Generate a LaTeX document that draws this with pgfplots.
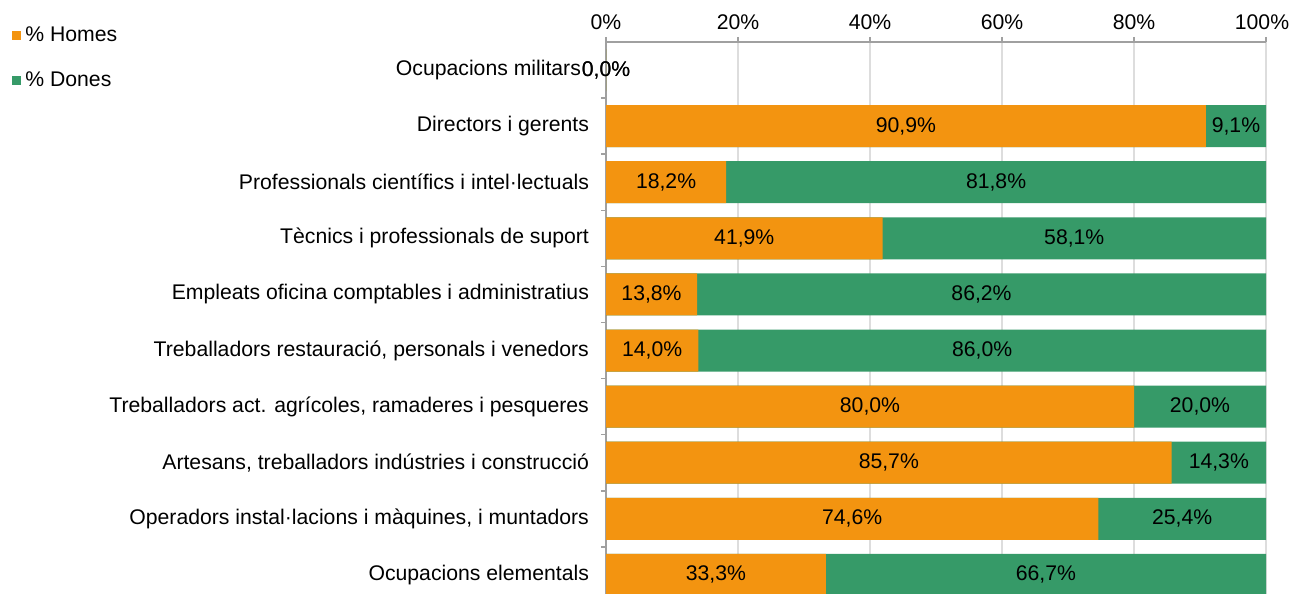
\documentclass[border=0pt]{standalone}
\usepackage{fontspec}
\setmainfont{Liberation Sans}
\usepackage{pgfplots}
\usepackage{pgfplotstable}
\pgfplotsset{compat=1.18}
\definecolor{hom}{HTML}{F39410}
\definecolor{don}{HTML}{369A68}
\definecolor{axisgray}{HTML}{A0A0A0}
\definecolor{gridgray}{HTML}{DDDDDD}
\pgfplotstableread{
y h d
9 0.0 0.0
8 90.9 9.1
7 18.2 81.8
6 41.9 58.1
5 13.8 86.2
4 14.0 86.0
3 80.0 20.0
2 85.7 14.3
1 74.6 25.4
0 33.3 66.7
}\data
\begin{document}
\begin{tikzpicture}
\path[use as bounding box] (0pt,0pt) rectangle (645pt,297pt);
\begin{axis}[
  at={(303pt,0pt)}, anchor=south west,
  scale only axis, width=330pt, height=276pt,
  xmin=0, xmax=100, ymin=-0.34, ymax=9.5,
  axis x line=top, axis y line=left,
  axis line style={draw=axisgray, line width=0.75pt, -},
  tick align=outside,
  major tick length=2.5pt, minor tick length=2.5pt,
  tick style={draw=axisgray, line width=0.75pt},
  /pgf/number format/assume math mode=true,
  xtick={0,20,...,100},
  xticklabels={0\%,20\%,40\%,60\%,80\%,{100\%\kern4pt}},
  xmajorgrids, major x grid style={draw=gridgray, line width=0.6pt},
  ytick={0,...,9},
  yticklabels={Ocupacions elementals,
    {Operadors instal·lacions i màquines, i muntadors},
    {Artesans, treballadors indústries i construcció},
    {Treballadors act. agrícoles, ramaderes i pesqueres},
    {Treballadors restauració, personals i venedors},
    Empleats oficina comptables i administratius,
    Tècnics i professionals de suport,
    Professionals científics i intel·lectuals,
    Directors i gerents,
    {Ocupacions militars\kern4pt}},
  minor ytick={0.5,1.5,...,8.5},
  every major y tick/.append style={draw=none},
  tick label style={font=\fontsize{10.6}{12}\selectfont, text=black},
  yticklabel style={xshift=-2.5pt},
  legend style={at={(axis description cs:-0.9,1.035)}, anchor=north west,
    draw=none, fill=none, inner sep=0pt, row sep=9.5pt,
    font=\fontsize{10.6}{12}\selectfont},
  legend cell align=left,
  legend image code/.code={\fill[#1] (0pt,-2.25pt) rectangle (4.5pt,2.25pt);},
  every node near coord/.append style={font=\fontsize{10.6}{12}\selectfont, text=black},
]
\addlegendimage{fill=hom, draw=none}
\addlegendentry{\% Homes}
\addlegendimage{fill=don, draw=none}
\addlegendentry{\% Dones}
\addplot[xbar, bar shift=0pt, bar width=21pt, fill=don, draw=none, forget plot]
  table[x expr=\thisrow{h}+\thisrow{d}, y=y] {\data};
\addplot[xbar, bar shift=0pt, bar width=21pt, fill=hom, draw=none, forget plot]
  table[x=h, y=y] {\data};
\addplot[draw=none, mark=none, forget plot, point meta=explicit,
  nodes near coords={\pgfmathprintnumber[fixed,fixed zerofill,precision=1,use comma]{\pgfplotspointmeta}\%},
  nodes near coords style={anchor=center}]
  table[x expr=\thisrow{h}/2, y=y, meta=h] {\data};
\addplot[draw=none, mark=none, forget plot, point meta=explicit,
  nodes near coords={\pgfmathprintnumber[fixed,fixed zerofill,precision=1,use comma]{\pgfplotspointmeta}\%},
  nodes near coords style={anchor=center}]
  table[x expr=\thisrow{h}+\thisrow{d}/2, y=y, meta=d] {\data};
\end{axis}
\end{tikzpicture}
\end{document}
